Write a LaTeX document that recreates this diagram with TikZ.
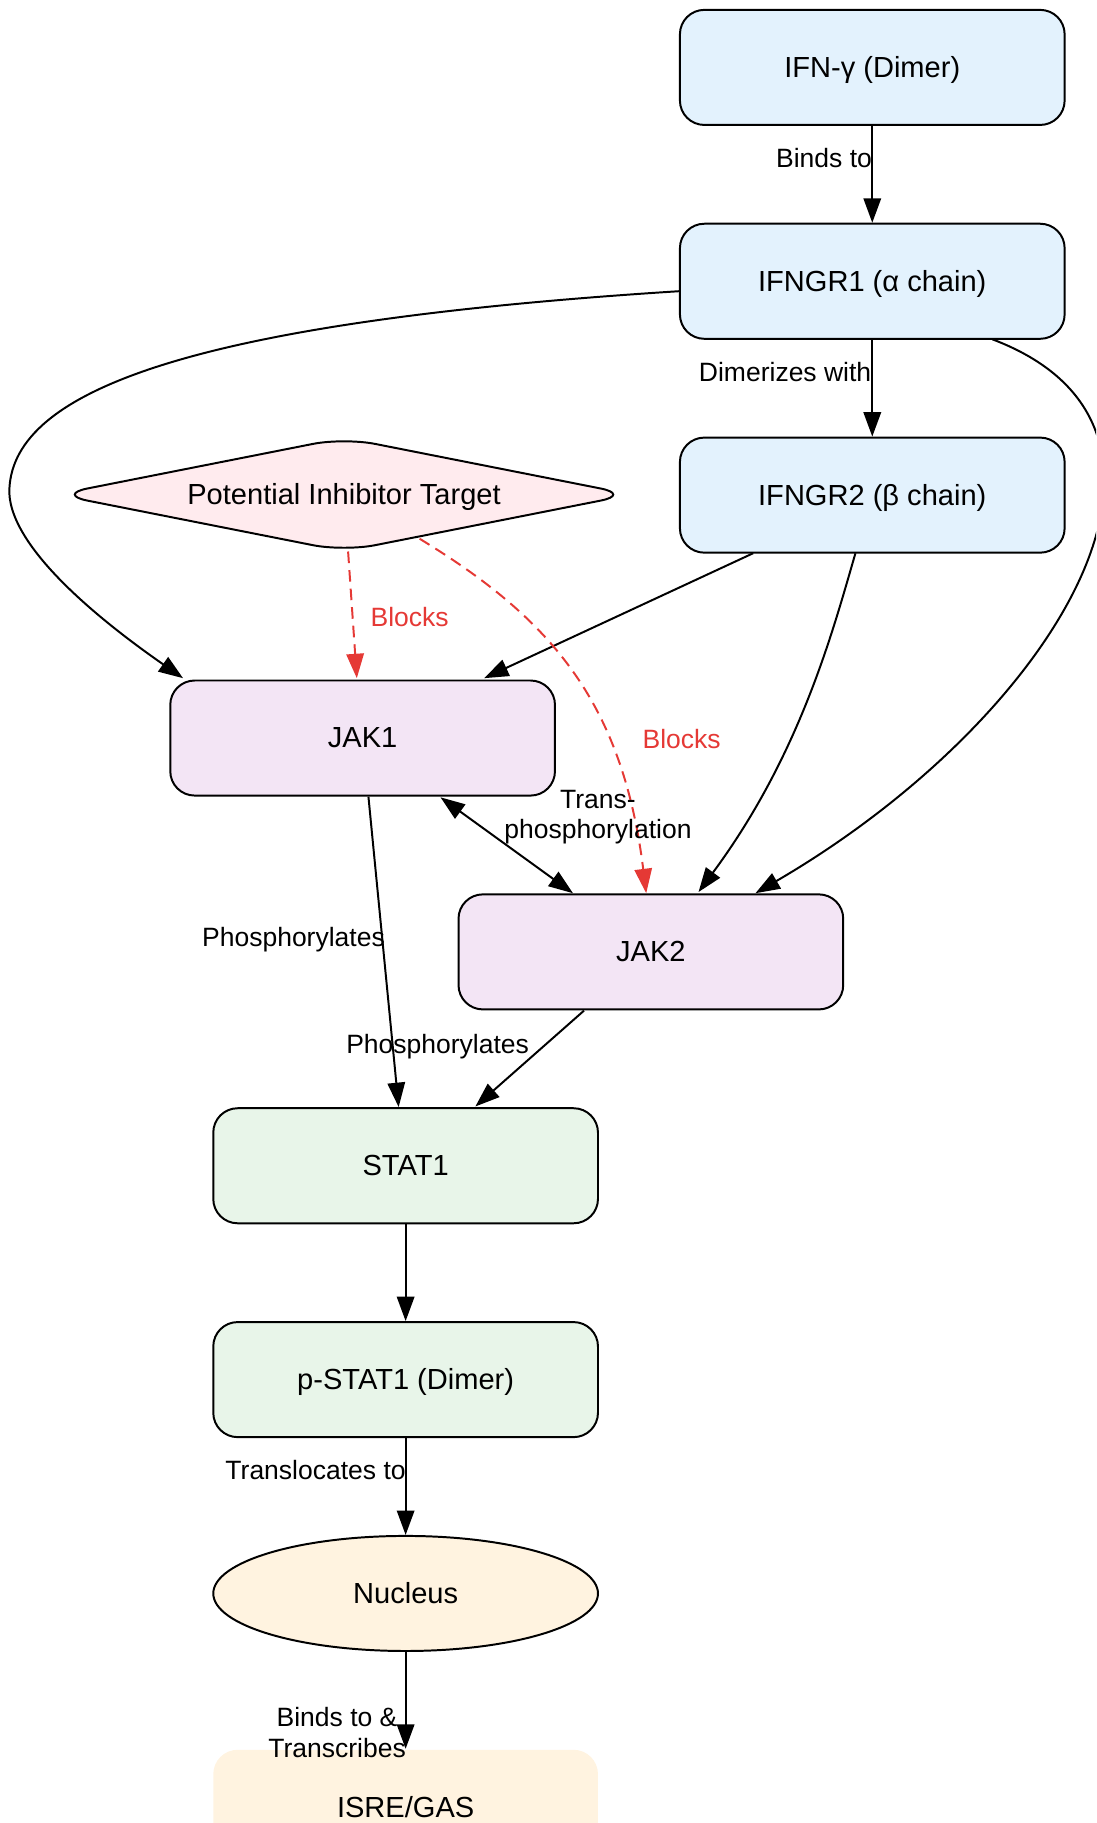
\documentclass[tikz,border=0pt]{standalone}
\usepackage{fontspec}
\setmainfont{Liberation Sans}
\usetikzlibrary{arrows.meta,shapes.geometric,calc}
\definecolor{cblue}{HTML}{E3F2FD}
\definecolor{cpurple}{HTML}{F3E5F5}
\definecolor{cgreen}{HTML}{E8F5E9}
\definecolor{corange}{HTML}{FFF3E0}
\definecolor{cpink}{HTML}{FFEBEE}
\definecolor{cred}{HTML}{E53935}
\newcommand\nodefont{\fontsize{25}{30}\selectfont}
\newcommand\labfont{\fontsize{22.8}{26.5}\selectfont}
\begin{document}
\begin{tikzpicture}[x=1pt,y=-1pt,
  box/.style={draw, line width=1.7pt, rounded corners=21pt, minimum width=331pt,
    minimum height=99pt, inner sep=0pt, font=\nodefont, text height=17pt, text depth=0pt},
  ovalbox/.style={draw, line width=1.7pt, shape=ellipse, minimum width=331pt,
    minimum height=99pt, inner sep=0pt, font=\nodefont, text height=17pt, text depth=0pt},
  diabox/.style={draw, line width=1.7pt, shape=diamond, aspect=5.03, rounded corners=27pt,
    minimum width=495pt, minimum height=98.4pt, inner sep=0pt, font=\nodefont,
    text height=17pt, text depth=0pt},
  lab/.style={font=\labfont, inner sep=0pt, text height=16.6pt, text depth=0pt, align=center},
  arr/.style={line width=1.7pt, -{Triangle[length=21pt,width=15pt]}},
  biarr/.style={line width=1.7pt, {Triangle[length=21pt,width=15pt]}-{Triangle[length=21pt,width=15pt]}},
  blk/.style={arr, color=cred, dash pattern=on 10pt off 6pt}
]
\useasboundingbox (0,0) rectangle (943,1568.5);
\clip (0,0) rectangle (943,1568.5);

% nodes
\node[box, fill=cblue] (ifn) at (750.5,58) {IFN-γ (Dimer)};
\node[box, fill=cblue] (r1) at (750.5,242) {IFNGR1 (α chain)};
\node[box, fill=cblue] (r2) at (750.5,426) {IFNGR2 (β chain)};
\node[diabox, fill=cpink] (inh) at (296,425.5) {Potential Inhibitor Target};
\node[box, fill=cpurple] (jak1) at (312,635) {JAK1};
\node[box, fill=cpurple] (jak2) at (560,819) {JAK2};
\node[box, fill=cgreen] (stat1) at (349,1003) {STAT1};
\node[box, fill=cgreen] (pstat) at (349,1187) {p-STAT1 (Dimer)};
\node[ovalbox, fill=corange] (nuc) at (349,1371) {Nucleus};
\node[box, draw=none, fill=corange] (isre) at (349,1555) {ISRE/GAS};

% connectors
\draw[arr] (ifn.south) -- (r1.north);
\draw[arr] (r1.south) -- (r2.north);
\draw[arr] ($(r1)+(-165.5,8.5)$) .. controls (150,278) and (8,340) .. (8,424)
  .. controls (10,475) and (95,540) .. ($(jak1)+(-154.5,-51.5)$);
\draw[arr] ($(r1)+(103.5,50)$) .. controls (1060,370) and (905,620) .. ($(jak2)+(90,-50.5)$);
\draw[arr] ($(r2)+(-102.5,50)$) -- ($(jak1)+(104.5,-51.5)$);
\draw[arr] ($(r2)+(-14.5,50)$) .. controls (716,545) and (688,650) .. ($(jak2)+(41,-51.5)$);
\draw[blk] ($(inh)+(3.5,49)$) -- ($(jak1)+(-5,-51.5)$);
\draw[blk] ($(inh)+(65,38)$) .. controls (470,530) and (535,600) .. ($(jak2)+(-4,-50.5)$);
\draw[biarr] ($(jak1)+(67,51)$) -- ($(jak2)+(-67,-50.5)$);
\draw[arr] ($(jak1)+(5,50.5)$) -- ($(stat1)+(-6,-50.5)$);
\draw[arr] ($(jak2)+(-57.5,50.5)$) -- ($(stat1)+(60,-51)$);
\draw[arr] (stat1.south) -- (pstat.north);
\draw[arr] (pstat.south) -- (nuc.north);
\draw[arr] (nuc.south) -- (isre.north);

% labels
\node[lab] (lb1) at (709,136) {Binds to};
\node[lab] (lb2) at (675.5,320) {Dimerizes with};
\node[lab, text=cred] (lb3) at (352.5,531) {Blocks};
\node[lab, text=cred] (lb4) at (586.5,636) {Blocks};
\node[lab] (lb5) at (514.5,713.5) {Trans-\\phosphorylation};
\node[lab] (lb6) at (252.5,806) {Phosphorylates};
\node[lab] (lb7) at (376.5,898) {Phosphorylates};
\node[lab] (lb8) at (271.5,1265) {Translocates to};
\node[lab] (lb9) at (290,1504) {Binds to \&\\Transcribes};
\end{tikzpicture}
\end{document}
